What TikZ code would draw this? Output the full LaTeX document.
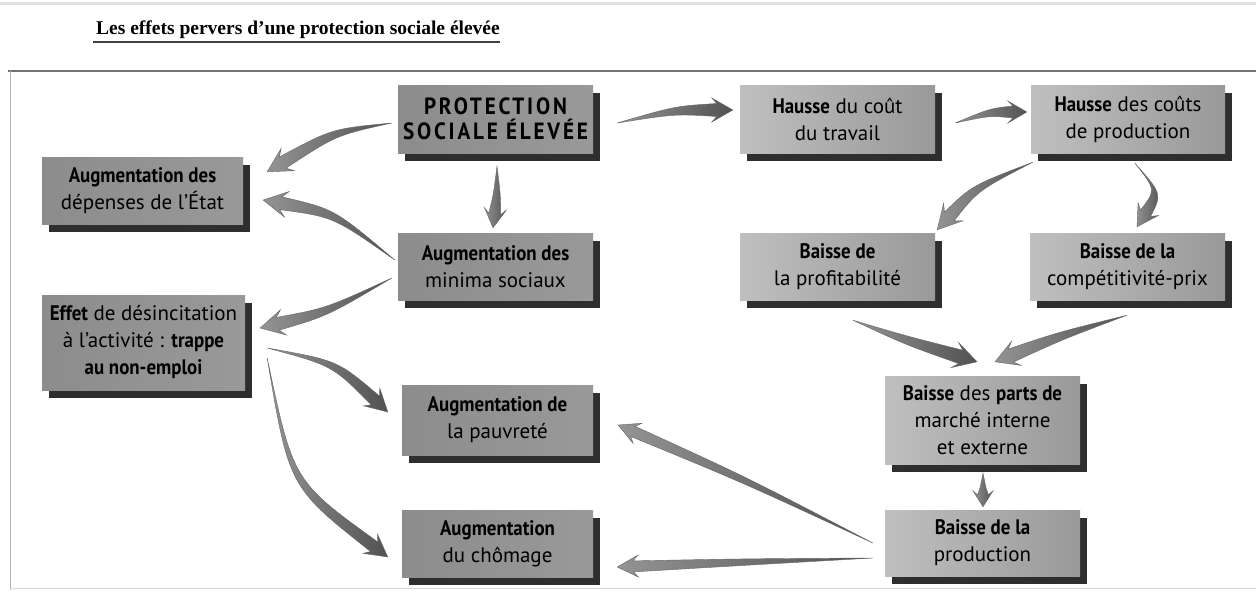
\documentclass[tikz,border=0pt]{standalone}
\usepackage{fontspec}
\setmainfont{PT Sans}[BoldFeatures={FakeStretch=0.9}]
\newfontfamily\titlefont{Liberation Serif}
\usetikzlibrary{calc,shadows}

\newcommand\swoosh[7]{%
  \coordinate (swc) at #2;
  \coordinate (swh) at ($(#3)!#6!(swc)$);
  \coordinate (swb) at ($(#3)!#7!(swc)$);
  \coordinate (swl) at ($(swh)!#4!90:(#3)$);
  \coordinate (swr) at ($(swh)!#4!-90:(#3)$);
  \coordinate (swcl) at ($(swc)!0.6*#4!90:(#3)$);
  \coordinate (swcr) at ($(swc)!0.6*#4!-90:(#3)$);
  \coordinate (swhl) at ($(swb)!#5!90:(#3)$);
  \coordinate (swhr) at ($(swb)!#5!-90:(#3)$);
  \path[sw] (#1) .. controls (swcl) .. (swl) -- (swhl) -- (#3) -- (swhr) -- (swr) .. controls (swcr) .. (#1) -- cycle;
}
\newcommand\protline[1]{{\bfseries\addfontfeature{LetterSpace=12}#1}}

\tikzset{
  box/.style={rectangle, inner sep=0pt, align=center,
    font=\fontsize{21}{27}\selectfont,
    drop shadow={shadow xshift=7pt, shadow yshift=-8pt, fill=black!82, opacity=1}},
  boxA/.style={box, left color=black!45, middle color=black!12, right color=black!40},
  boxB/.style={box, left color=black!25, middle color=black!7, right color=black!40},
  sw/.style={left color=black!42, right color=black!68, draw=black!60, line width=0.4pt},
}

\begin{document}
\begin{tikzpicture}[x=1pt,y=-1pt]
\fill[white] (0,0) rectangle (1256,590);
\useasboundingbox (0,0) rectangle (1256,590);

% page frame
\draw[black!12, line width=3pt] (0,3) -- (1256,3);
\draw[black!55, line width=1.5pt] (8,71) -- (1256,71);
\draw[black!30, line width=1pt] (10,71) -- (10,590);
\draw[black!15, line width=1pt] (10,588) -- (1256,588);

% title
\node[anchor=base, inner sep=0pt, font=\titlefont\bfseries\fontsize{19.5}{21}\selectfont] (title) at (298,34)
  {Les effets pervers d’une protection sociale élevée};
\draw[black!75, line width=1.3pt] (93,42) -- (500,42);

% boxes
\node[boxA, minimum width=195pt, minimum height=68pt, font=\fontsize{23.5}{25}\selectfont] (prot) at (495.5,119)
  {\protline{PROTECTION}\\\protline{SOCIALE ÉLEVÉE}};
\node[boxB, minimum width=195pt, minimum height=68pt] (hcout) at (837.5,119)
  {\textbf{Hausse} du coût\\du travail};
\node[boxB, minimum width=194pt, minimum height=68pt] (hcouts) at (1128,119)
  {\textbf{Hausse} des coûts\\de production};
\node[boxA, minimum width=201pt, minimum height=67pt] (dep) at (142.5,190.5)
  {\textbf{Augmentation des}\\dépenses de l’État};
\node[boxA, minimum width=195pt, minimum height=67pt] (minima) at (495.5,266.5)
  {\textbf{Augmentation des}\\minima sociaux};
\node[boxB, minimum width=195pt, minimum height=67pt] (profit) at (837.5,266.5)
  {\textbf{Baisse de}\\la profitabilité};
\node[boxB, minimum width=195pt, minimum height=67pt] (compet) at (1127.5,266.5)
  {\textbf{Baisse de la}\\compétitivité-prix};
\node[boxA, minimum width=203pt, minimum height=95pt] (effet) at (143.5,342.5)
  {\textbf{Effet} de désincitation\\à l’activité : \textbf{trappe}\\\textbf{au non-emploi}};
\node[boxA, minimum width=191pt, minimum height=70pt] (pauv) at (497.5,420)
  {\textbf{Augmentation de}\\la pauvreté};
\node[boxA, minimum width=191pt, minimum height=67pt] (chom) at (497.5,543.5)
  {\textbf{Augmentation}\\du chômage};
\node[boxB, minimum width=195pt, minimum height=88pt] (parts) at (982.5,420)
  {\textbf{Baisse} des \textbf{parts de}\\marché interne\\et externe};
\node[boxB, minimum width=195pt, minimum height=66pt] (prod) at (982.5,543)
  {\textbf{Baisse de la}\\production};

% arrow end points
\coordinate (a1s) at ($(prot.west)+(-6,4)$);
\coordinate (a1e) at ($(dep.north east)+(24,15)$);
\coordinate (a2s) at ($(minima.west)+(-3,-6.5)$);
\coordinate (a2e) at ($(dep.east)+(20,9.5)$);
\coordinate (a3s) at ($(prot.south)+(1.5,13)$);
\coordinate (a3e) at ($(minima.north)+(-2.5,-5)$);
\coordinate (a4s) at ($(prot.east)+(24,4)$);
\coordinate (a4e) at ($(hcout.west)+(-7,-9)$);
\coordinate (a5s) at ($(hcout.east)+(20,4)$);
\coordinate (a5e) at ($(hcouts.west)+(-4,-7)$);
\coordinate (a6s) at ($(hcouts.south west)+(2,9)$);
\coordinate (a6e) at ($(profit.north east)+(2,-3)$);
\coordinate (a7s) at ($(hcouts.south)+(7,10)$);
\coordinate (a7e) at ($(compet.north)+(9.5,-6)$);
\coordinate (a8s) at ($(minima.west)+(-6,11.5)$);
\coordinate (a8e) at ($(effet.east)+(15,-14.5)$);
\coordinate (a9s) at ($(effet.east)+(22,5.5)$);
\coordinate (a9e) at ($(pauv.west)+(-14,-8)$);
\coordinate (a10s) at ($(effet.east)+(22,15.5)$);
\coordinate (a10e) at ($(chom.west)+(-14,13.5)$);
\coordinate (a11s) at ($(profit.south)+(15.5,20)$);
\coordinate (a11e) at ($(parts.north)+(-5.5,-14)$);
\coordinate (a12s) at ($(compet.south)+(-0.5,15)$);
\coordinate (a12e) at ($(parts.north)+(12.5,-14)$);
\coordinate (a13s) at ($(parts.south)+(0.5,9)$);
\coordinate (a13e) at ($(prod.north)+(0.5,-3)$);
\coordinate (a14s) at ($(prod.west)+(-12,0)$);
\coordinate (a14e) at ($(pauv.east)+(25,5)$);
\coordinate (a15s) at ($(prod.west)+(-12,15)$);
\coordinate (a15e) at ($(chom.east)+(24,23.5)$);

% arrows
\swoosh{a1s}{(334,132)}{a1e}{6.5pt}{13pt}{18pt}{24pt}
\swoosh{a2s}{(334,213)}{a2e}{6.5pt}{13pt}{18pt}{24pt}
\swoosh{a3s}{(497,195)}{a3e}{6pt}{11pt}{14pt}{19pt}
\swoosh{a4s}{(675,110)}{a4e}{6.5pt}{12pt}{16pt}{21pt}
\swoosh{a5s}{(990,112)}{a5e}{6pt}{11pt}{14pt}{19pt}
\swoosh{a6s}{(975,188)}{a6e}{6.5pt}{13pt}{18pt}{24pt}
\swoosh{a7s}{(1159,192)}{a7e}{6pt}{12pt}{16pt}{21pt}
\swoosh{a8s}{(327,312)}{a8e}{6.5pt}{13pt}{18pt}{24pt}
\swoosh{a9s}{(335,363)}{a9e}{6pt}{12pt}{17pt}{22pt}
\swoosh{a10s}{(291,484)}{a10e}{6pt}{12pt}{17pt}{22pt}
\swoosh{a11s}{(905,340)}{a11e}{7pt}{13pt}{17pt}{23pt}
\swoosh{a12s}{(1060,336)}{a12e}{7pt}{13pt}{17pt}{23pt}
\swoosh{a13s}{(983,490)}{a13e}{5.5pt}{10pt}{12pt}{16pt}
\swoosh{a14s}{(745,480)}{a14e}{5.5pt}{11pt}{16pt}{21pt}
\swoosh{a15s}{(745,562)}{a15e}{5.5pt}{11pt}{16pt}{21pt}
\end{tikzpicture}
\end{document}
